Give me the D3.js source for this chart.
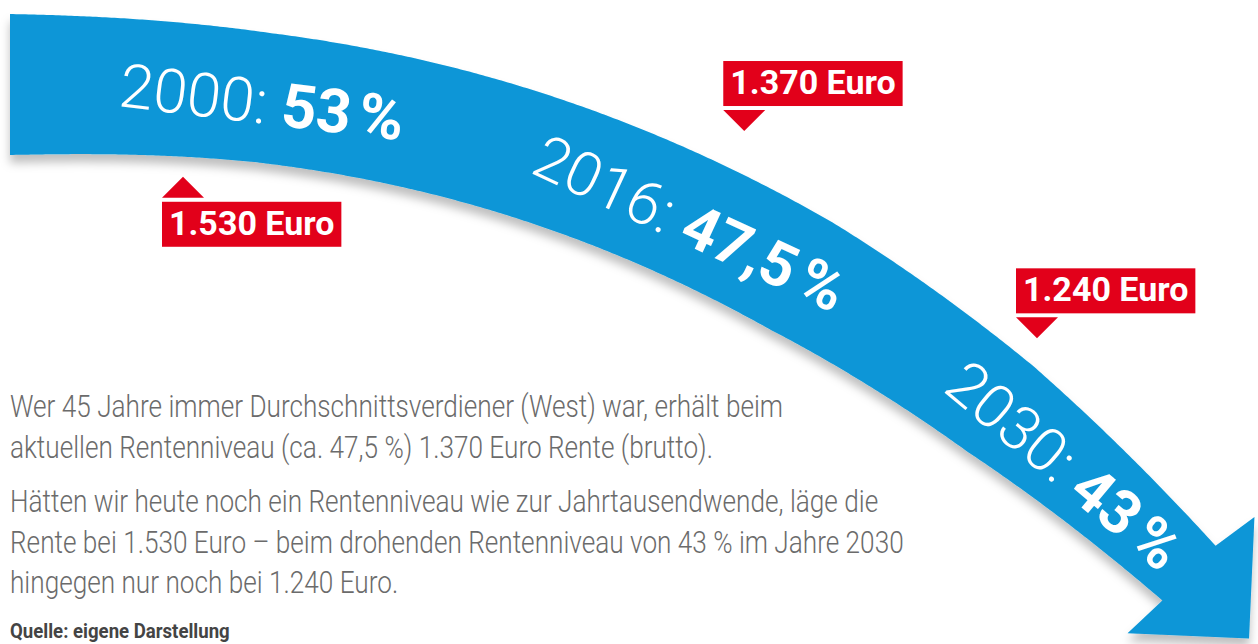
<!DOCTYPE html>
<html>
<head>
<meta charset="utf-8">
<script src="https://cdn.jsdelivr.net/npm/d3@7"></script>
<style>
  body { margin: 0; background: #fff; }
  svg { display: block; font-family: Roboto, "Open Sans", sans-serif; }
</style>
</head>
<body>
<div id="chart"></div>
<script>
// data
const years = [2000, 2016, 2030];
const levels = [53, 47.5, 43];          // Rentenniveau in %
const pensions = [1530, 1370, 1240];    // Rente brutto in Euro

const bodyText = [
    ["Wer 45 Jahre immer Durchschnittsverdiener (West) war, erhält beim",
     "aktuellen Rentenniveau (ca. 47,5 %) 1.370 Euro Rente (brutto)."],
    ["Hätten wir heute noch ein Rentenniveau wie zur Jahrtausendwende, läge die",
     "Rente bei 1.530 Euro – beim drohenden Rentenniveau von 43 % im Jahre 2030",
     "hingegen nur noch bei 1.240 Euro."]
];
const sourceText = "Quelle: eigene Darstellung";

// layout
var width = 1258, height = 644;
var blue = "#0a96d7", red = "#e2001a", grey = "#6b6b6b";
// where each euro callout sits relative to its year, which side of the arrow, gap to the edge
var callouts = [
    {dx: -79, side: "below", gap: 20},
    {dx: 54, side: "above", gap: 44},
    {dx: -28, side: "above", gap: 34}
];

var de = d3.formatLocale({decimal: ",", thousands: ".", grouping: [3], currency: ["", " Euro"]});
var fmtLevel = de.format(".1~f");
var fmtEuro = de.format(",d");

// year -> horizontal position along the arrow
var x = d3.scaleLinear().domain([2000, 2030]).range([262, 1065]);

// the arrow: centre line falls away with a power curve from its tail
var tailX = 10, tailY = 84.5, shaftEndX = 1191;
var drop = d3.scalePow().exponent(2.35).domain([0, 1140]).range([0, 451.5]);
var bandWidth = d3.scaleLinear()
    .domain([10, 262, 800, 1000, 1191])
    .range([141, 130, 124, 108, 76]);
var headHalf = 86, headLen = 86;

function centre(px) {
    return [px, tailY + drop(Math.max(0, px - tailX))];
}
function slope(px) {
    var a = centre(px - 0.5), b = centre(px + 0.5);
    return b[1] - a[1];
}

var svg = d3.select("#chart").append("svg")
    .attr("width", width)
    .attr("height", height);

var defs = svg.append("defs");
defs.append("filter")
    .attr("id", "shadow")
    .attr("x", "-10%").attr("y", "-10%").attr("width", "120%").attr("height", "130%")
  .append("feDropShadow")
    .attr("dx", 0).attr("dy", 8)
    .attr("stdDeviation", 5)
    .attr("flood-color", "#000")
    .attr("flood-opacity", 0.25);

// build outline of the band + head
var topEdge = [], bottomEdge = [];
d3.range(tailX, shaftEndX + 0.01, 3).forEach(px => {
    var c = centre(px), m = slope(px);
    var len = Math.sqrt(1 + m * m);
    var n = [-m / len, 1 / len];
    var h = bandWidth(px) / 2;
    topEdge.push([c[0] - n[0] * h, c[1] - n[1] * h]);
    bottomEdge.push([c[0] + n[0] * h, c[1] + n[1] * h]);
});
var ce = centre(shaftEndX), me = slope(shaftEndX) * 1.12, le = Math.sqrt(1 + me * me);
var ne = [-me / le, 1 / le], te = [1 / le, me / le];
var head = [
    [ce[0] - ne[0] * headHalf, ce[1] - ne[1] * headHalf],
    [ce[0] + te[0] * headLen, ce[1] + te[1] * headLen],
    [ce[0] + ne[0] * headHalf, ce[1] + ne[1] * headHalf]
];
var outline = topEdge.concat(head, bottomEdge.reverse());

svg.append("path")
    .attr("d", d3.line()(outline) + "Z")
    .attr("fill", blue)
    .attr("filter", "url(#shadow)");

// year : level labels on the arrow
var labels = svg.selectAll("text.level")
    .data(years).enter()
  .append("text")
    .attr("class", "level")
    .attr("transform", d => {
        var c = centre(x(d));
        var a = Math.atan(slope(x(d))) * 180 / Math.PI;
        return `translate(${c[0]},${c[1] + 4}) rotate(${a})`;
    })
    .attr("text-anchor", "middle")
    .attr("dy", "0.36em")
    .attr("fill", "#fff")
    .style("font-size", "61px");

labels.append("tspan")
    .style("font-weight", 300)
    .text(d => d + ": ");
labels.append("tspan")
    .style("font-weight", 700)
    .text((d, i) => fmtLevel(levels[i]) + "\u202f%");

// euro callouts
var boxes = svg.selectAll("g.callout")
    .data(pensions).enter()
  .append("g")
    .attr("class", "callout");

boxes.each(function(d, i) {
    var g = d3.select(this);
    var cfg = callouts[i];
    var ax = x(years[i]) + cfg.dx;
    var c = centre(ax), m = slope(ax), w = bandWidth(ax) / 2 * Math.sqrt(1 + m * m);
    var below = cfg.side == "below";
    var ay = below ? c[1] + w + cfg.gap : c[1] - w - cfg.gap;
    var dir = below ? 1 : -1;

    g.append("path")
        .attr("d", d3.line()([[ax, ay], [ax - 21, ay + dir * 21], [ax + 21, ay + dir * 21]]) + "Z")
        .attr("fill", red);

    var boxTop = below ? ay + 25 : ay - 70;
    var t = g.append("text")
        .attr("x", ax - 21 + 7)
        .attr("y", boxTop + 33)
        .attr("fill", "#fff")
        .style("font-size", "34px")
        .style("font-weight", 700)
        .text(fmtEuro(d) + " Euro");
    var tw = t.node().getComputedTextLength();

    g.insert("rect", "text")
        .attr("x", ax - 21)
        .attr("y", boxTop)
        .attr("width", tw + 14)
        .attr("height", 45)
        .attr("fill", red);
});

// explanatory text, narrow like the original typeface
var body = svg.append("g");
var baselines = [417, 458, 512, 553, 593];
var flat = bodyText[0].concat(bodyText[1]);
var lines = body.selectAll("text")
    .data(flat).enter()
  .append("text")
    .attr("x", 0)
    .attr("y", (d, i) => baselines[i])
    .attr("fill", grey)
    .style("font-size", "32px")
    .style("font-weight", 300)
    .text(d => d);
var longest = d3.max(lines.nodes(), n => n.getComputedTextLength());
body.attr("transform", `translate(10,0) scale(${894 / longest},1)`);

var src = svg.append("text")
    .attr("x", 0)
    .attr("y", 638)
    .attr("fill", "#444")
    .style("font-size", "20px")
    .style("font-weight", 700)
    .text(sourceText);
var sw = src.node().getComputedTextLength();
src.attr("transform", `translate(10,0) scale(${220 / sw},1)`);
</script>
</body>
</html>
